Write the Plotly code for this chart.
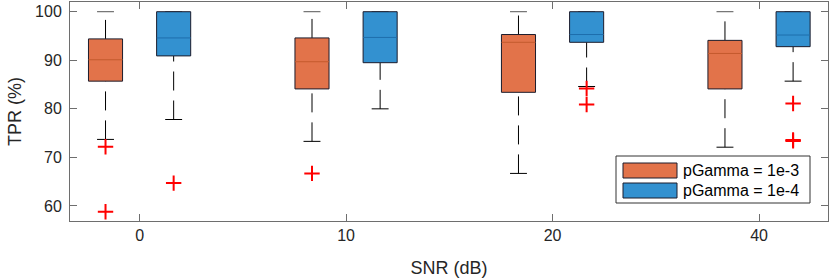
import plotly.graph_objects as go

# ---------------- data ----------------
snr_labels = ["0", "10", "20", "40"]
series_names = ["pGamma = 1e-3", "pGamma = 1e-4"]

# pGamma = 1e-3
g1_lower = [73.7, 73.3, 66.7, 72.1]
g1_q1 = [85.7, 84.1, 83.4, 84.1]
g1_median = [90.1, 89.7, 93.7, 91.4]
g1_q3 = [94.4, 94.6, 95.3, 94.1]
g1_upper = [100.0, 100.0, 100.0, 100.0]
g1_out_idx = [0, 0, 1]
g1_out_val = [72.2, 58.8, 66.7]

# pGamma = 1e-4
g2_lower = [77.8, 80.0, 84.6, 85.7]
g2_q1 = [90.9, 89.5, 93.7, 92.8]
g2_median = [94.6, 94.7, 95.3, 95.2]
g2_q3 = [100.0, 100.0, 100.0, 100.0]
g2_upper = [100.0, 100.0, 100.0, 100.0]
g2_out_idx = [0, 2, 2, 3, 3, 3]
g2_out_val = [64.7, 84.2, 80.9, 81.1, 73.6, 73.4]

# ---------------- style ----------------
FONT = "Liberation Sans, Arial, Helvetica, sans-serif"
TXT = "#262626"
AX = "#6e6e6e"
fills = ["#E2734A", "#3391D0"]
medians = ["#C45A2E", "#1E6EAC"]
edge = "#1c1c2c"
offsets = [-0.165, 0.165]
HALF = 0.0825
CAP = 0.041

W, H = 830, 280
L, R, T, B = 70, 2, 2, 59

fig = go.Figure()

groups = [
    (g1_lower, g1_q1, g1_median, g1_q3, g1_upper, g1_out_idx, g1_out_val),
    (g2_lower, g2_q1, g2_median, g2_q3, g2_upper, g2_out_idx, g2_out_val),
]

for gi, (lo, q1, md, q3, hi, oi, ov) in enumerate(groups):
    for i in range(len(snr_labels)):
        xc = i + 1 + offsets[gi]
        # whiskers (dashed), drawn in increasing-y direction
        if lo[i] < q1[i]:
            fig.add_trace(go.Scatter(x=[xc, xc], y=[lo[i], q1[i]], mode="lines",
                                     line=dict(color="black", width=1, dash="19px,10px"),
                                     showlegend=False, hoverinfo="skip"))
        if hi[i] > q3[i]:
            fig.add_trace(go.Scatter(x=[xc, xc], y=[q3[i], hi[i]], mode="lines",
                                     line=dict(color="black", width=1, dash="19px,10px"),
                                     showlegend=False, hoverinfo="skip"))
        # caps
        for v, c in ((lo[i], "black"), (hi[i], "#555555")):
            fig.add_trace(go.Scatter(x=[xc - CAP, xc + CAP], y=[v, v], mode="lines",
                                     line=dict(color=c, width=1),
                                     showlegend=False, hoverinfo="skip"))
        # box
        fig.add_trace(go.Scatter(x=[xc - HALF, xc + HALF, xc + HALF, xc - HALF, xc - HALF],
                                 y=[q1[i], q1[i], q3[i], q3[i], q1[i]],
                                 mode="lines", fill="toself", fillcolor=fills[gi],
                                 line=dict(color=edge, width=1),
                                 name=series_names[gi], showlegend=False, hoverinfo="skip"))
        # median
        fig.add_trace(go.Scatter(x=[xc - HALF, xc + HALF], y=[md[i], md[i]], mode="lines",
                                 line=dict(color=medians[gi], width=1),
                                 showlegend=False, hoverinfo="skip"))
    # outliers
    fig.add_trace(go.Scatter(x=[k + 1 + offsets[gi] for k in oi], y=ov, mode="markers",
                             marker=dict(symbol="cross-thin", size=11,
                                         line=dict(color="#FF0000", width=2)),
                             showlegend=False, hoverinfo="skip"))

# ---------------- legend (drawn box) ----------------
def px(x):
    return (x - L) / (W - L - R)

def py(y):
    return (H - B - y) / (H - T - B)

fig.add_shape(type="rect", xref="paper", yref="paper",
              x0=px(616), x1=px(810), y0=py(203), y1=py(156),
              line=dict(color="#333333", width=1), fillcolor="white", layer="above")
for k, (y0, y1) in enumerate([(163, 178), (183, 198)]):
    fig.add_shape(type="rect", xref="paper", yref="paper",
                  x0=px(623), x1=px(677), y0=py(y1), y1=py(y0),
                  line=dict(color=edge, width=1), fillcolor=fills[k], layer="above")
    fig.add_annotation(xref="paper", yref="paper", x=px(681), y=py((y0 + y1) / 2),
                       text=series_names[k], showarrow=False, xanchor="left",
                       yanchor="middle", font=dict(family=FONT, size=16, color="#000000"))

fig.update_layout(
    width=W, height=H,
    margin=dict(l=L, r=R, t=T, b=B, autoexpand=False),
    paper_bgcolor="white", plot_bgcolor="white",
    font=dict(family=FONT, size=16, color=TXT),
    showlegend=False,
    xaxis=dict(range=[0.663, 4.334], tickvals=[1, 2, 3, 4], ticktext=snr_labels,
               ticks="inside", ticklen=7, tickcolor=AX, showline=True, linecolor=AX,
               linewidth=1, mirror="ticks", showgrid=False, zeroline=False,
               automargin=False,
               title=dict(text="SNR (dB)", font=dict(size=18, color=TXT), standoff=18),
               tickfont=dict(size=16, color=TXT)),
    yaxis=dict(range=[56.9, 102.0], tickvals=[60, 70, 80, 90, 100],
               ticks="inside", ticklen=7, tickcolor=AX, showline=True, linecolor=AX,
               linewidth=1, mirror="ticks", showgrid=False, zeroline=False,
               automargin=False, ticklabelstandoff=4,
               title=dict(text="TPR (%)", font=dict(size=18, color=TXT), standoff=8),
               tickfont=dict(size=16, color=TXT)),
)

fig.write_html("out.html", config={"displayModeBar": False},
               post_script="document.body.style.margin='0';document.body.style.overflow='hidden';")
